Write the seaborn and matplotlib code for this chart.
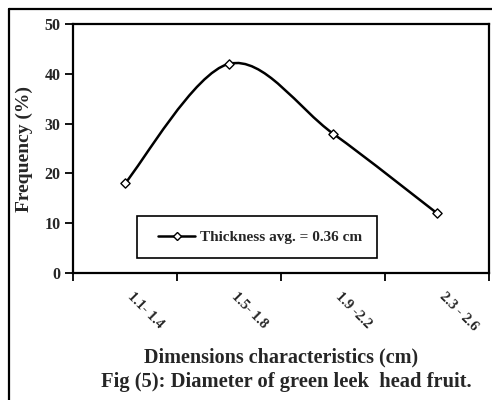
import numpy as np
import pandas as pd
import seaborn as sns
import matplotlib.pyplot as plt
from matplotlib.path import Path
from matplotlib.patches import PathPatch, Rectangle
from matplotlib.lines import Line2D

sns.set_style('white')
plt.rcParams['font.family'] = ['Liberation Serif', 'DejaVu Serif']
plt.rcParams['font.weight'] = 'bold'

# data
categories = ['1.1- 1.4', '1.5- 1.8', '1.9 -2.2', '2.3 - 2.6']
frequency = [18, 42, 28, 12]
y_ticks = [0, 10, 20, 30, 40, 50]

df = pd.DataFrame({'cat': categories, 'freq': frequency})
df['pos'] = np.arange(len(categories))

fig = plt.figure(figsize=(4.92, 4.0), dpi=100)
ax = fig.add_axes([73 / 492, 127 / 400, 416 / 492, 249 / 400])

# smoothed line (excel style bezier through the points)
pts = df[['pos', 'freq']].to_numpy(dtype=float)
ext = np.vstack([pts[0], pts, pts[-1]])
verts = [tuple(pts[0])]
codes = [Path.MOVETO]
for i in range(1, len(ext) - 2):
    p0, p1, p2, p3 = ext[i - 1], ext[i], ext[i + 1], ext[i + 2]
    c1 = p1 + (p2 - p0) / 6
    c2 = p2 - (p3 - p1) / 6
    verts += [tuple(c1), tuple(c2), tuple(p2)]
    codes += [Path.CURVE4] * 3
ax.add_patch(PathPatch(Path(verts, codes), fill=False, lw=1.8, ec='black', zorder=2))

sns.scatterplot(data=df, x='pos', y='freq', marker='D', s=22, color='white',
                edgecolor='black', linewidth=1.0, zorder=3, ax=ax, legend=False)

ax.set_xlim(-0.5, len(categories) - 0.5)
ax.set_ylim(0, 50)
ax.set_yticks(y_ticks)
ax.set_yticklabels([str(t) for t in y_ticks], fontsize=11.5, fontweight='bold')
ax.set_xticks(np.arange(len(categories) + 1) - 0.5)
ax.set_xticklabels([])
ax.set_xticks(df['pos'], minor=True)
ax.set_xticklabels(categories, minor=True, rotation=-45, ha='left', va='bottom',
                   rotation_mode='anchor', fontsize=10.5, fontweight='bold')
ax.tick_params(axis='x', which='minor', length=0, pad=19)
ax.tick_params(axis='both', which='major', direction='out', length=6, width=1.3,
               color='black', left=True, bottom=True)
ax.tick_params(axis='y', pad=3)
for s in ax.spines.values():
    s.set_color('black')
    s.set_linewidth(1.6)

ax.set_xlabel('')
ax.set_ylabel('Frequency (%)', fontsize=14, fontweight='bold', labelpad=8)

# legend box drawn separately so the padding matches
ax.add_patch(Rectangle(((137 - 73) / 416, (273 - 258) / 249), 240 / 416, 42 / 249,
                       transform=ax.transAxes, fill=True, fc='white', ec='black',
                       lw=1.2, zorder=4))
handle = Line2D([], [], color='black', lw=1.8, marker='D', markersize=4.5,
                markerfacecolor='white', markeredgecolor='black')
leg = ax.legend([handle], ['Thickness avg. = 0.36 cm'], loc='center',
                bbox_to_anchor=((260 - 73) / 416, (273 - 237) / 249),
                frameon=False, handlelength=2.4, handletextpad=0.3,
                borderpad=0, prop={'size': 11, 'weight': 'bold'})
leg.set_zorder(5)

fig.text(281 / 492, 1 - 357 / 400, 'Dimensions characteristics (cm)', ha='center',
         va='center', fontsize=14.5, fontweight='bold')
fig.text(286 / 492, 1 - 382 / 400, 'Fig (5): Diameter of green leek  head fruit.',
         ha='center', va='center', fontsize=14.8, fontweight='bold')

# outer frame (left and top edges visible)
fig.add_artist(Line2D([8.5 / 492, 8.5 / 492], [0, 1 - 9 / 400], color='black',
                      lw=1.6, transform=fig.transFigure))
fig.add_artist(Line2D([8.5 / 492, 1], [1 - 9 / 400, 1 - 9 / 400], color='black',
                      lw=1.6, transform=fig.transFigure))

fig.savefig('out.png', dpi=100)
